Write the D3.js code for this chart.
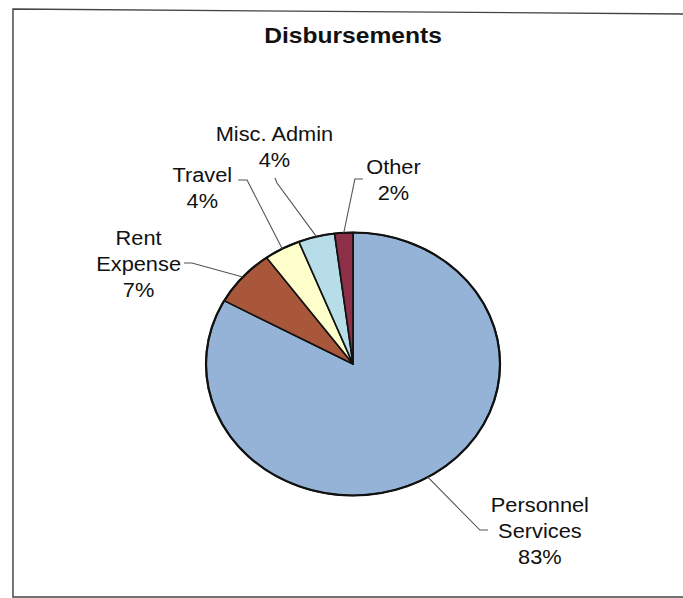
<!DOCTYPE html>
<html>
<head>
<meta charset="utf-8">
<script src="https://cdn.jsdelivr.net/npm/d3@7/dist/d3.min.js"></script>
<style>
  html, body { margin: 0; padding: 0; background: #fff; }
  svg { display: block; }
  text { font-family: "Liberation Sans", Arial, sans-serif; fill: #111; }
</style>
</head>
<body>
<div id="chart"></div>
<script>
// Disbursements by category (percent of total), clockwise from 12 o'clock
const categories = ["Personnel Services", "Rent Expense", "Travel", "Misc. Admin", "Other"];
const shares = [83, 7, 4, 4, 2];
const labelLines = [["Personnel", "Services"], ["Rent", "Expense"], ["Travel"], ["Misc. Admin"], ["Other"]];
const colors = ["#95b3d7", "#a9573b", "#ffffcc", "#b7dee8", "#8e2f48"];
const title = "Disbursements";

// Layout (drawn in a horizontally stretched view box)
const W = 683, H = 598, VW = 611;
const cx = 315.8, cy = 364, R = 131.5;
const lineGap = 26;
// label block centre (x) and first-line centre (y), plus leader elbow / end points
const labelLayout = [
  { x: 483, y: 505, elbow: [429.3, 530], end: [436.5, 530] },
  { x: 124, y: 238, elbow: [171.7, 263], end: [164.6, 263] },
  { x: 181, y: 175, elbow: [221, 180], end: [213, 180] },
  { x: 245.5, y: 134, elbow: [247.8, 183], end: [246, 178] },
  { x: 352, y: 167, elbow: [317.5, 179], end: [324.7, 179] }
];

const svg = d3.select("#chart").append("svg")
  .attr("width", W).attr("height", H)
  .attr("viewBox", `0 0 ${VW} ${H}`)
  .attr("preserveAspectRatio", "none");

// chart frame (left, top and bottom edges)
svg.append("path")
  .attr("d", `M${VW},14 L11.6,9 L11.6,597 L${VW},597`)
  .attr("fill", "none").attr("stroke", "#444").attr("stroke-width", 1.3);

svg.append("text")
  .attr("x", cx).attr("y", 43)
  .attr("text-anchor", "middle")
  .attr("font-size", 22).attr("font-weight", "bold")
  .text(title);

const data = categories.map((c, i) => ({ name: c, value: shares[i], i }));
const pie = d3.pie().value(d => d.value).sort(null);
const arcs = pie(data);
const arc = d3.arc().innerRadius(0).outerRadius(R);
const edge = d3.arc().innerRadius(R).outerRadius(R);

const g = svg.append("g").attr("transform", `translate(${cx},${cy})`);
g.selectAll("path.slice").data(arcs).join("path")
  .attr("class", "slice")
  .attr("d", arc)
  .attr("fill", d => colors[d.data.i])
  .attr("stroke", "#111").attr("stroke-width", 1.5)
  .attr("stroke-linejoin", "round");
g.append("circle").attr("r", R)
  .attr("fill", "none").attr("stroke", "#111").attr("stroke-width", 2);

// leader lines from each slice's outer edge to its label
svg.selectAll("path.leader").data(arcs).join("path")
  .attr("class", "leader")
  .attr("fill", "none").attr("stroke", "#555").attr("stroke-width", 1)
  .attr("d", d => {
    const p = edge.centroid(d);
    const L = labelLayout[d.data.i];
    return `M${cx + p[0]},${cy + p[1]} L${L.elbow[0]},${L.elbow[1]} L${L.end[0]},${L.end[1]}`;
  });

// data labels: category name lines then percentage
arcs.forEach(d => {
  const L = labelLayout[d.data.i];
  const lines = labelLines[d.data.i].concat([d3.format(".0f")(d.data.value) + "%"]);
  const t = svg.append("text")
    .attr("text-anchor", "middle")
    .attr("font-size", 19.5);
  lines.forEach((s, k) => {
    t.append("tspan").attr("x", L.x).attr("y", L.y + 7 + k * lineGap).text(s);
  });
});
</script>
</body>
</html>
